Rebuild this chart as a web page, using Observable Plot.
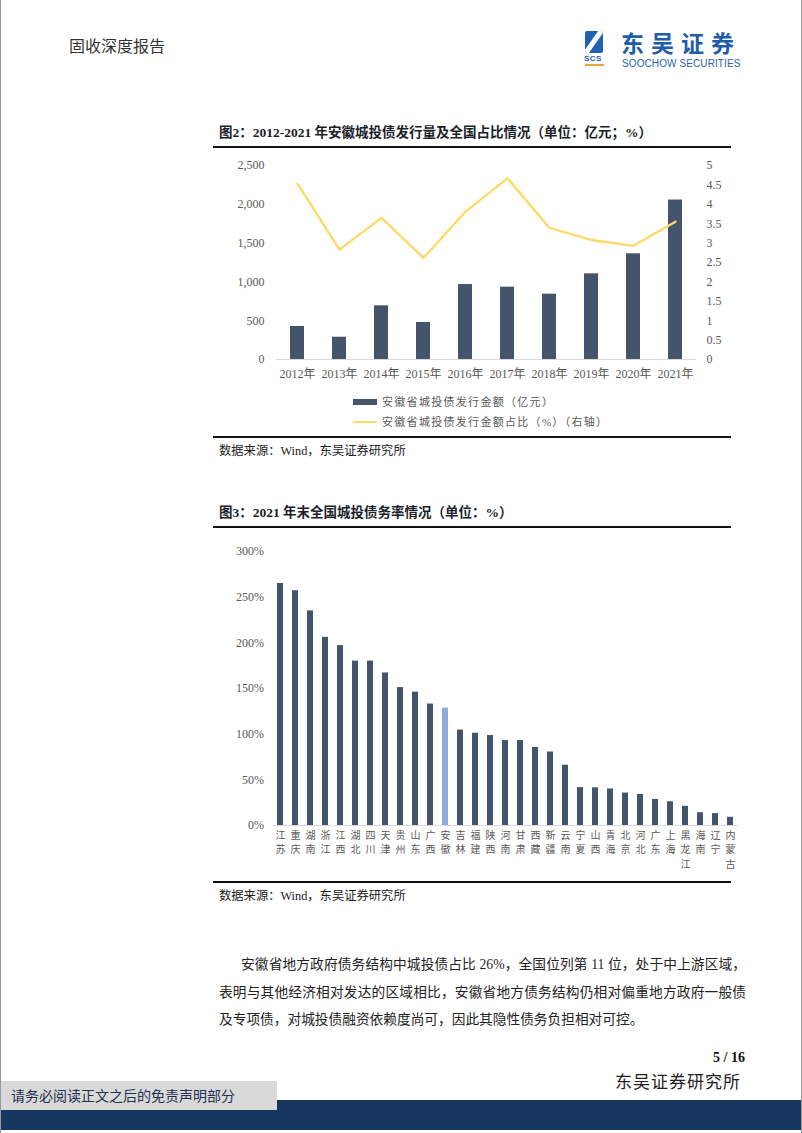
<!DOCTYPE html>
<html>
<head>
<meta charset="utf-8">
<script src="https://cdn.jsdelivr.net/npm/d3@7"></script>
<script src="https://cdn.jsdelivr.net/npm/@observablehq/plot@0.6"></script>
<style>
  html, body { margin: 0; padding: 0; background: #fff; }
  #page { position: relative; width: 802px; height: 1133px; overflow: hidden; background: #fff;
          font-family: "Liberation Serif", "Noto Sans CJK SC", serif; color: #222; box-sizing: border-box;
          border-left: 1px solid #9a9a9a; border-right: 1px solid #9a9a9a; }
  .abs { position: absolute; white-space: nowrap; }
  .title { font-weight: bold; font-size: 13.5px; line-height: 18px; color: #1b1f2a; }
  .rule { position: absolute; left: 212px; width: 518px; background: #111; }
  .src { font-size: 12.3px; line-height: 18px; color: #222; }
  .leg { font-size: 11px; line-height: 14px; color: #595959; letter-spacing: 1.3px; }
  .para { position: absolute; left: 218px; width: 527px; font-size: 13.7px; line-height: 20px; color: #222;
          text-align: justify; text-align-last: justify; white-space: nowrap; }
</style>
</head>
<body>
<div id="page">
  <!-- header -->
  <div class="abs" style="left:68px; top:37px; font-size:16px; line-height:20px; color:#333;">固收深度报告</div>
  <div class="abs" style="left:584px; top:31px; width:18px; height:22px; background:#2062b2; border-radius:2px; overflow:hidden;">
    <div style="position:absolute; left:6px; top:-4px; width:5px; height:30px; background:#fff; transform:rotate(35deg); border-radius:3px;"></div>
  </div>
  <div class="abs" style="left:583px; top:54px; font-size:8px; line-height:9px; font-weight:bold; color:#2062b2; font-family:'Liberation Sans',sans-serif; letter-spacing:0.5px;">SCS</div>
  <div class="abs" style="left:584px; top:64px; width:19px; height:2px; background:#e8a33a;"></div>
  <div class="abs" style="left:620px; top:30px; font-size:23px; line-height:24px; font-weight:bold; color:#1f5daa; font-family:'Noto Sans CJK SC',sans-serif; letter-spacing:7px;">东吴证券</div>
  <div class="abs" style="left:621px; top:57.5px; font-size:10px; line-height:11px; color:#2a64b0; font-family:'Liberation Sans',sans-serif; letter-spacing:0.1px;">SOOCHOW SECURITIES</div>

  <!-- chart 1 -->
  <div class="abs title" style="left:218px; top:124px;">图2：2012-2021 年安徽城投债发行量及全国占比情况（单位：亿元；%）</div>
  <div class="rule" style="top:146px; height:2px;"></div>
  <div id="chart1" class="abs" style="left:212px; top:150px;"></div>
  <div class="abs" style="left:352px; top:399px; width:24px; height:6px; background:#44546A;"></div>
  <div class="abs leg" style="left:381px; top:395px;">安徽省城投债发行金额（亿元）</div>
  <div class="abs" style="left:352px; top:421px; width:24px; height:2px; background:#FFD966;"></div>
  <div class="abs leg" style="left:381px; top:415px;">安徽省城投债发行金额占比（%）（右轴）</div>
  <div class="rule" style="top:436px; height:1.5px;"></div>
  <div class="abs src" style="left:218px; top:442px;">数据来源：Wind，东吴证券研究所</div>

  <!-- chart 2 -->
  <div class="abs title" style="left:218px; top:504px;">图3：2021 年末全国城投债务率情况（单位：%）</div>
  <div class="rule" style="top:526px; height:2px;"></div>
  <div id="chart2" class="abs" style="left:212px; top:535px;"></div>
  <div class="rule" style="top:881px; height:1.5px;"></div>
  <div class="abs src" style="left:218px; top:887px;">数据来源：Wind，东吴证券研究所</div>

  <!-- paragraph -->
  <div class="para" style="top:955px; left:240px; width:505px;">安徽省地方政府债务结构中城投债占比 26%，全国位列第 11 位，处于中上游区域，</div>
  <div class="para" style="top:983px;">表明与其他经济相对发达的区域相比，安徽省地方债务结构仍相对偏重地方政府一般债</div>
  <div class="para" style="top:1010px; text-align:left; text-align-last:left;">及专项债，对城投债融资依赖度尚可，因此其隐性债务负担相对可控。</div>

  <!-- footer -->
  <div class="abs" style="right:56px; top:1049px; font-size:14px; line-height:18px; font-weight:bold; color:#111;">5 / 16</div>
  <div class="abs" style="left:614px; top:1073px; font-size:17px; line-height:20px; color:#222; letter-spacing:1px;">东吴证券研究所</div>
  <div class="abs" style="left:0; top:1100px; width:802px; height:30px; background:#17375E;"></div>
  <div class="abs" style="left:0; top:1081px; width:276px; height:29px; background:#D9D9D9;"></div>
  <div class="abs" style="left:10px; top:1087px; font-size:14px; line-height:20px; color:#1f3050;">请务必阅读正文之后的免责声明部分</div>
</div>

<script>
// ---- Chart 1 data ----
const years = ["2012年","2013年","2014年","2015年","2016年","2017年","2018年","2019年","2020年","2021年"];
const issuance = [425, 287, 692, 477, 966, 932, 842, 1104, 1362, 2055];     // 亿元
const nationalShare = [4.53, 2.83, 3.65, 2.62, 3.81, 4.67, 3.39, 3.08, 2.93, 3.55]; // %
const leftTicks = [0, 500, 1000, 1500, 2000, 2500];
const rightTicks = [0, 0.5, 1, 1.5, 2, 2.5, 3, 3.5, 4, 4.5, 5];

// ---- Chart 2 data ----
const provinces = ["江苏","重庆","湖南","浙江","江西","湖北","四川","天津","贵州","山东","广西","安徽","吉林","福建","陕西","河南","甘肃","西藏","新疆","云南","宁夏","山西","青海","北京","河北","广东","上海","黑龙江","海南","辽宁","内蒙古"];
const debtRatio = [265, 257, 235, 206, 197, 180, 180, 167, 151, 146, 133, 128.5, 104.5, 101, 98.5, 93, 93, 85.5, 80.5, 66, 41.5, 41.3, 40, 35.5, 34, 28.5, 26, 21, 14, 13, 9];
const ratioTicks = [0, 50, 100, 150, 200, 250, 300];
const highlight = "安徽";

const font = '"Liberation Serif", "Noto Sans CJK SC", serif';
const cjk = '"Noto Sans CJK SC", sans-serif';

// chart 1
const t1 = years.map((y, i) => ({year: y, amt: issuance[i], share: nationalShare[i]}));
const RATIO = 2500 / 5;
const c1 = Plot.plot({
  width: 518, height: 235,
  marginTop: 15, marginBottom: 26, marginLeft: 63, marginRight: 35,
  style: {fontFamily: font, fontSize: "12px", color: "#595959", background: "transparent"},
  x: {domain: years, paddingInner: 0.67, paddingOuter: 0.335},
  y: {domain: [0, 2500]},
  marks: [
    Plot.barY(t1, {x: "year", y: "amt", fill: "#44546A"}),
    Plot.ruleY([0], {stroke: "#D9D9D9", strokeWidth: 1}),
    Plot.line(t1, {x: "year", y: d => d.share * RATIO, stroke: "#FFD966", strokeWidth: 2.3}),
    Plot.axisY(leftTicks, {anchor: "left", tickSize: 0, tickPadding: 12, tickFormat: d3.format(","), fontSize: 12, label: null}),
    Plot.axisY(rightTicks.map(v => v * RATIO), {anchor: "right", tickSize: 0, tickPadding: 10, tickFormat: v => String(v / RATIO), fontSize: 12, textAnchor: "start", label: null}),
    Plot.axisX({tickSize: 0, tickPadding: 10, fontSize: 12, label: null})
  ]
});
document.getElementById("chart1").appendChild(c1);

// chart 2
const t2 = provinces.map((p, i) => ({p, v: debtRatio[i]}));
// one entry per character so that each label is stacked vertically
const chars = provinces.flatMap(p => p.split("").map((ch, i) => ({p, ch, i})));
const labelMarks = [0, 1, 2].map(i =>
  Plot.text(chars.filter(c => c.i === i), {x: "p", y: () => 0, text: "ch", lineAnchor: "top", dy: 6 + 14.5 * i,
    fontSize: 10, fontFamily: cjk, fill: "#595959"}));
const c2 = Plot.plot({
  width: 530, height: 345,
  marginTop: 16, marginBottom: 55, marginLeft: 59.5, marginRight: 5.5,
  style: {fontFamily: font, fontSize: "12px", color: "#595959", background: "transparent"},
  x: {domain: provinces, paddingInner: 0.6, paddingOuter: 0.3, axis: null},
  y: {domain: [0, 300]},
  color: {type: "identity"},
  marks: [
    Plot.barY(t2, {x: "p", y: "v", fill: d => d.p === highlight ? "#8EA9DB" : "#44546A"}),
    Plot.ruleY([0], {stroke: "#D9D9D9", strokeWidth: 1}),
    Plot.axisY(ratioTicks, {anchor: "left", tickSize: 0, tickPadding: 9, tickFormat: d => d + "%", fontSize: 12, label: null}),
    ...labelMarks
  ]
});
document.getElementById("chart2").appendChild(c2);
</script>
</body>
</html>
